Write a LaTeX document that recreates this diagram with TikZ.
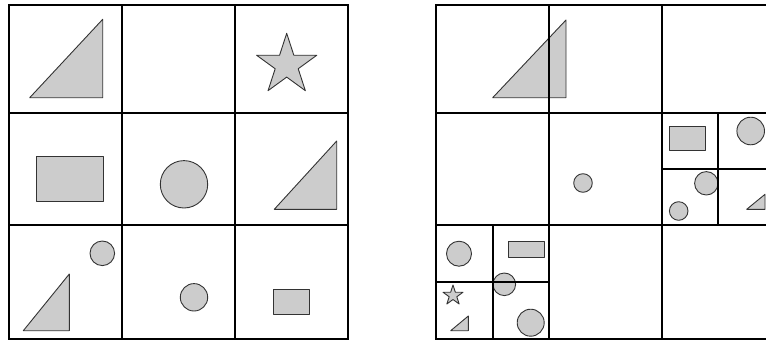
\documentclass[tikz,border=0pt]{standalone}
\usetikzlibrary{calc}
\definecolor{shapeFill}{HTML}{CCCCCC}
\definecolor{shapeEdge}{HTML}{333333}
\tikzset{
    grid line/.style={
        draw=black,
        line width=2pt,
    },
    item/.style={
        fill=shapeFill,
        draw=shapeEdge,
        line width=0.9pt,
        line join=round,
    },
}
% right triangle: left x, base y, right x, top y
\newcommand{\triItem}[4]{%
    \draw[item] (#1,#2) -- (#3,#2) -- (#3,#4) -- cycle;
}
% five-pointed star: centre x, centre y, outer radius
\newcommand{\starItem}[3]{%
    \draw[item] ($(#1,#2)+(-90:#3)$)
        \foreach \k in {1,...,9}{ -- ($(#1,#2)+({-90+36*\k}:{#3*(0.691+0.309*cos(180*\k))})$) } -- cycle;
}

\begin{document}
\begin{tikzpicture}[x=1pt, y=-1pt]

\useasboundingbox (0,0) rectangle (766,343);
\clip (0,0) rectangle (766,343);

% ── LEFT GRID: SHAPES ──────────────────────────────────────────────

\triItem{29.7}{97.7}{102.7}{19.3}
\starItem{286.7}{65}{31.7}

\draw[item] (36.7,156.7) rectangle (103.3,201);
\draw[item] (184,184.3) circle (23.7);
\triItem{274.3}{209.3}{336.7}{141}

\draw[item] (102.3,253.3) circle (12.3);
\triItem{23.3}{330.7}{69.3}{274}
\draw[item] (194,297.3) circle (13.7);
\draw[item] (273.3,289.3) rectangle (309,314);

% ── RIGHT GRID: SHAPES ─────────────────────────────────────────────

\triItem{492.7}{97.7}{566}{20}
\draw[item] (583,183) circle (9.3);

% middle right, split cell
\draw[item] (669.7,126) rectangle (705,150);
\draw[item] (750.7,131) circle (13.8);
\draw[item] (706.3,183.3) circle (11.7);
\draw[item] (678.7,211) circle (9.3);
\triItem{746.7}{209.3}{765}{194.3}

% bottom left, split cell
\draw[item] (459,253.7) circle (12.5);
\draw[item] (508.7,241.7) rectangle (544.3,257.3);
\draw[item] (504.3,284.3) circle (11.3);
\draw[item] (530.7,322.7) circle (13.5);
\starItem{453}{295.5}{10.5}
\triItem{450.7}{330.7}{468.3}{316}

% ── GRID LINES ─────────────────────────────────────────────────────

% left 3x3
\draw[grid line] (9,5) rectangle (348,339);
\draw[grid line] (122,5) -- (122,339);
\draw[grid line] (235,5) -- (235,339);
\draw[grid line] (9,113) -- (348,113);
\draw[grid line] (9,225) -- (348,225);

% right 3x3
\draw[grid line] (436,5) rectangle (774,339);
\draw[grid line] (549,5) -- (549,339);
\draw[grid line] (661.5,5) -- (661.5,339);
\draw[grid line] (436,113) -- (774,113);
\draw[grid line] (436,225) -- (774,225);

% right, split cells
\draw[grid line] (717.75,113) -- (717.75,225);
\draw[grid line] (661.5,169) -- (774,169);
\draw[grid line] (492.5,225) -- (492.5,339);
\draw[grid line] (436,282) -- (549,282);

\end{tikzpicture}
\end{document}
